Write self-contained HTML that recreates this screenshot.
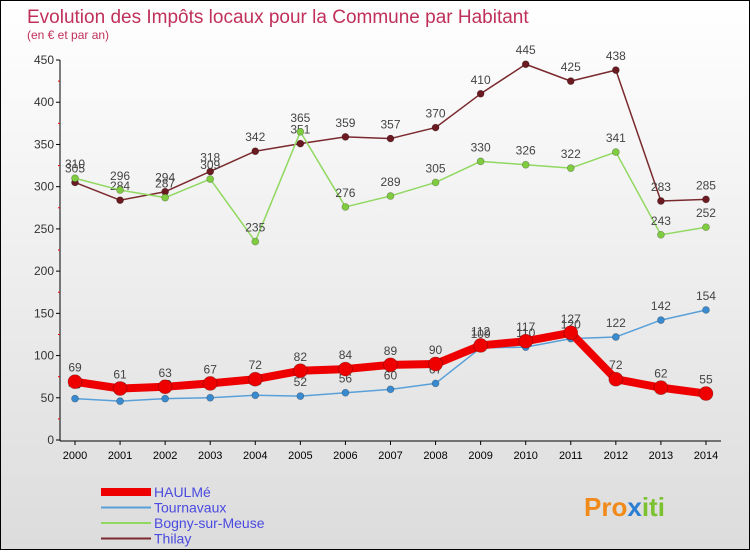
<!DOCTYPE html>
<html><head><meta charset="utf-8"><style>
body{margin:0}
#c{width:748px;height:548px;border:1px solid #000;background:linear-gradient(#fff,#dcdcdc);position:relative;font-family:"Liberation Sans",sans-serif}
</style></head><body>
<div id="c">
<svg width="748" height="548" id="s">
<text x="26" y="22" font-size="19" fill="#c0305a">Evolution des Impôts locaux pour la Commune par Habitant</text>
<text x="26" y="38" font-size="12" fill="#c0305a">(en € et par an)</text>
<g id="ax"></g><g id="ser"></g>
<text x="583" y="515" font-size="26" font-weight="bold" fill="#f08a1a">Pro<tspan fill="#2a7fd4">x</tspan><tspan fill="#7cc230">iti</tspan></text>
</svg></div>
<script>
const years=[2000,2001,2002,2003,2004,2005,2006,2007,2008,2009,2010,2011,2012,2013,2014];
const yTicks=[0,50,100,150,200,250,300,350,400,450];
const haulme=[69,61,63,67,72,82,84,89,90,112,117,127,72,62,55];
const tournavaux=[49,46,49,50,53,52,56,60,67,109,110,120,122,142,154];
const bogny=[310,296,287,309,235,365,276,289,305,330,326,322,341,243,252];
const thilay=[305,284,294,318,342,351,359,357,370,410,445,425,438,283,285];
const NS="http://www.w3.org/2000/svg";
const X=i=>74+i*45.07, Y=v=>439-v*0.8444;
function mk(t,a,p){const e=document.createElementNS(NS,t);for(const k in a)e.setAttribute(k,a[k]);p.appendChild(e);return e;}
const ax=document.getElementById('ax'), ser=document.getElementById('ser');
let l=mk('line',{x1:59,y1:59,x2:59,y2:440,stroke:'#000'},ax);


l=mk('line',{x1:59,y1:440,x2:720,y2:440,stroke:'#000'},ax);


yTicks.forEach(v=>{
 mk('line',{x1:55,y1:Y(v),x2:59,y2:Y(v),stroke:'#000'},ax);
 if(v<450) mk('line',{x1:57,y1:Y(v+25),x2:59,y2:Y(v+25),stroke:'#e00'},ax);
 const t=mk('text',{x:53,y:Y(v)+4,'font-size':12,'text-anchor':'end',fill:'#333'},ax);t.textContent=v;
 
 
});
years.forEach((y,i)=>{
 mk('line',{x1:X(i),y1:440,x2:X(i),y2:444,stroke:'#000'},ax);
 const t=mk('text',{x:X(i),y:458,'font-size':11,'text-anchor':'middle',fill:'#000'},ax);t.textContent=y;
 
 
});
function series(d,col,dot,w,r,name){
 const g=mk('g',{},ser);
 
 
 mk('polyline',{points:d.map((v,i)=>X(i)+','+Y(v)).join(' '),fill:'none',stroke:col,'stroke-width':w,'stroke-linejoin':'round'},g);
 d.forEach((v,i)=>{
  const c=mk('circle',{cx:X(i),cy:Y(v),r:r,fill:dot,stroke:'rgba(0,0,0,0.3)','stroke-width':0.7},g);
  
  
  const t=mk('text',{x:X(i),y:Y(v)-10,'font-size':12,'text-anchor':'middle',fill:'#444'},g);t.textContent=v;
 });
}
series(thilay,'#7a2a2e','#6a1a20',1.5,3.5,'thilay');
series(bogny,'#90d860','#80cc40',1.5,3.5,'bogny');
series(tournavaux,'#5aa0d8','#3a8ad0',1.5,3.5,'tournavaux');
series(haulme,'#ee0000','#ee0000',8,7,'haulme');
const leg=[['HAULMé','#ee0000',8],['Tournavaux','#5aa0d8',2],['Bogny-sur-Meuse','#90d860',2],['Thilay','#7a2a2e',2]];
leg.forEach((e,i)=>{
 const y=491+i*15.5;
 const g=mk('g',{},ax);
 
 
 mk('line',{x1:100,y1:y,x2:150,y2:y,stroke:e[1],'stroke-width':e[2]},g);
 const t=mk('text',{x:153,y:y+5,'font-size':14,fill:'#4a4ae0'},g);t.textContent=e[0];
});
</script>
</body></html>
